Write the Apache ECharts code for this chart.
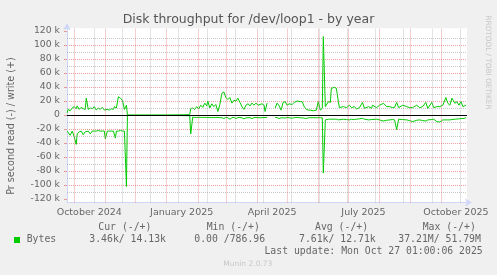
<!DOCTYPE html>
<html>
<head>
<meta charset="utf-8">
<script src="https://cdn.jsdelivr.net/npm/echarts@6/dist/echarts.min.js"></script>
<style>
html,body{margin:0;padding:0;background:#F0F0F0;}
#chart{width:497px;height:275px;}
</style>
</head>
<body>
<div id="chart"></div>
<script>
// ---- data (values in k bytes per second) ----
const dates = [
'2024-09-24','2024-09-25','2024-09-27','2024-09-29','2024-10-01','2024-10-03','2024-10-04','2024-10-06','2024-10-08','2024-10-10',
'2024-10-12','2024-10-13','2024-10-15','2024-10-17','2024-10-19','2024-10-21','2024-10-23','2024-10-25','2024-10-27','2024-10-29',
'2024-10-31','2024-11-01','2024-11-03','2024-11-05','2024-11-07','2024-11-09','2024-11-10','2024-11-11','2024-11-12','2024-11-14',
'2024-11-16','2024-11-18','2024-11-20','2024-11-22','2024-11-23','2024-12-10','2025-01-01','2025-01-24','2025-01-25','2025-01-27',
'2025-01-29','2025-01-31','2025-02-02','2025-02-04','2025-02-06','2025-02-08','2025-02-10','2025-02-11','2025-02-13','2025-02-15',
'2025-02-17','2025-02-19','2025-02-21','2025-02-23','2025-02-25','2025-02-27','2025-03-01','2025-03-03','2025-03-05','2025-03-07',
'2025-03-09','2025-03-11','2025-03-13','2025-03-15','2025-03-17','2025-03-19','2025-03-21','2025-03-23','2025-03-25','2025-03-27',
'2025-03-29','2025-03-31','2025-04-02','2025-04-04','2025-04-06','2025-04-08','2025-04-09','2025-04-11','2025-04-15','2025-04-19',
'2025-04-21','2025-04-23','2025-04-25','2025-04-27','2025-04-29','2025-05-01','2025-05-03','2025-05-06','2025-05-08','2025-05-11',
'2025-05-14','2025-05-16','2025-05-18','2025-05-20','2025-05-22','2025-05-24','2025-05-27','2025-05-30','2025-06-01','2025-06-03',
'2025-06-05','2025-06-06','2025-06-08','2025-06-11','2025-06-13','2025-06-14','2025-06-17','2025-06-19','2025-06-21','2025-06-22',
'2025-06-26','2025-06-29','2025-07-02','2025-07-04','2025-07-07','2025-07-09','2025-07-12','2025-07-15','2025-07-17','2025-07-21',
'2025-07-24','2025-07-25','2025-07-29','2025-08-01','2025-08-05','2025-08-08','2025-08-11','2025-08-14','2025-08-16','2025-08-18',
'2025-08-20','2025-08-24','2025-08-28','2025-08-31','2025-09-03','2025-09-07','2025-09-10','2025-09-13','2025-09-16','2025-09-18',
'2025-09-22','2025-09-24','2025-09-27','2025-09-30','2025-10-01','2025-10-03','2025-10-06','2025-10-08','2025-10-10','2025-10-12',
'2025-10-15','2025-10-17','2025-10-19','2025-10-21','2025-10-23','2025-10-25','2025-10-26'
];
const writeK = [
3,8,6,10,12,9,13,8,11,9,
8,24,8,10,9,12,7,10,8,11,
7,8,8,7,9,8,12,11,10,26,
24,21,8,14,0,0,0,0.5,9,10,
8,12,9,14,11,17,13,20,10,16,
12,15,5,15,31,33,25,22,25,17,
21,20,24,18,12,8,14,16,13,17,
14,17,14,15,16,14,5,17,null,10,
17,13,7,18,19,14,16,15,18,20,
19,19,12,8,7,7,6,7,19,7,
9.5,112,12,19,18,38,39.5,38,19,10.5,
12,10.5,14,10.5,12,8.6,10.5,18,9.5,12,
9.5,14,10.5,14,16.7,12,12,10.5,11,18,
10.5,14,12,10.5,10.5,14,10.5,12,18,9.5,
18,10.5,12,12,12,14,25,16.7,14,24,
16.7,19,14,19,12,13.3,14.13
];
const readK = [
-23,-23,-29,-23,-31,-42,-27,-24,-23,-28,
-24,-23,-23,-27,-23,-23,-23,-22,-23,-23,
-23,-34,-23,-23,-23,-23,-23,-33,-23,-23,
-22,-23,-23,-102,-0.5,-0.5,-0.5,-1,-27,-3,
-3.5,-3.5,-3.5,-3.5,-3.5,-3.5,-3.5,-3.5,-3.5,-3.8,
-3.5,-3.8,-3.5,-3.8,-3.8,-5,-3.5,-4,-6,-4,
-3.5,-5,-3.8,-3.5,-4,-5.5,-4,-4,-3.8,-5,
-3.8,-3.5,-3.8,-4,-3.8,-3.5,-3.8,-3.5,null,-3.5,
-3.8,-5,-4,-4,-4.5,-3.5,-4,-4.5,-3.8,-3.5,
-4,-4,-4.5,-5,-4,-3.8,-3.8,-4,-3.8,-3.8,
-4,-83,-7,-6,-6,-6,-6,-6,-7,-8.6,
-6,-6.5,-7,-6,-6.5,-6,-5.5,-4.8,-6,-7,
-6.5,-6,-6,-7,-8.6,-7.5,-7,-6.5,-7,-21,
-6,-6.5,-7,-8,-9.5,-7.5,-7,-8,-8.6,-7,
-6.5,-6,-9.5,-10,-11,-7,-7,-7,-7,-6.5,
-6,-5.7,-5.5,-5.2,-5,-4.8,-3.46
];
const monthStarts = ['2024-10-01','2024-11-01','2024-12-01','2025-01-01','2025-02-01','2025-03-01','2025-04-01',
  '2025-05-01','2025-06-01','2025-07-01','2025-08-01','2025-09-01','2025-10-01'];
const minorWeeks = ['2024-10-21','2024-11-18','2024-12-16','2025-01-13','2025-02-10','2025-03-10','2025-04-07',
  '2025-05-05','2025-06-02','2025-06-30','2025-07-28','2025-08-25','2025-09-22','2025-10-20'];
const xLabelDates = ['2024-10-16','2025-01-16','2025-04-16','2025-07-16','2025-10-16'];
const yTicks = [-120,-100,-80,-60,-40,-20,0,20,40,60,80,100,120];
const monthNames = ['January','February','March','April','May','June','July','August','September','October','November','December'];

const legendHead = ['Cur (-/+)','Min (-/+)','Avg (-/+)','Max (-/+)'];
const legendVals = ['3.46k/ 14.13k','0.00 /786.96','7.61k/ 12.71k','37.21M/ 51.79M'];

// ---- helpers ----
function toTs(s){ return new Date(s.length > 10 ? s : s + 'T00:00:00').getTime(); }
const yMinor = [];
for (let v = -110; v <= 110; v += 20) yMinor.push(v);

const GREEN = '#00CC00';
const AXIS = '#CFD6F8';
const FONT = '#666666';
const MGRID = 'rgba(222,79,79,0.55)';
const GRID = 'rgba(143,143,143,0.5)';

const writeData = dates.map((d,i)=>[toTs(d), writeK[i]]);
const readData = dates.map((d,i)=>[toTs(d), readK[i]]);

const gridLines = []
  .concat(minorWeeks.map(d=>({xAxis: toTs(d), lineStyle:{color:GRID, type:[1,1], width:1}})))
  .concat(yMinor.map(v=>({yAxis: v, lineStyle:{color:GRID, type:[1,1], width:1}})))
  .concat(monthStarts.map(d=>({xAxis: toTs(d), lineStyle:{color:MGRID, type:[1,1], width:1}})));

const legX = [98.3, 206.7, 315, 422.7];
const valX = [89.3, 194.3, 299, 398.3];
const mono = '9.8px "DejaVu Sans Mono"';
const graphics = [
  {type:'text', x:248.5, y:19.5, style:{text:'Disk throughput for /dev/loop1 - by year', fill:'#555', font:'12.5px "DejaVu Sans"', align:'center', verticalAlign:'middle'}},
  {type:'text', x:11, y:126, rotation:Math.PI/2, style:{text:'Pr second read (-) / write (+)', fill:FONT, font:'9.6px "DejaVu Sans"', align:'center', verticalAlign:'middle'}},
  {type:'text', x:487.5, y:62.5, rotation:-Math.PI/2, style:{text:'RRDTOOL / TOBI OETIKER', fill:'#C8C8C8', font:'7.3px "DejaVu Sans"', align:'center', verticalAlign:'middle'}},
  {type:'rect', shape:{x:14, y:237, width:6, height:6}, style:{fill:GREEN}},
  {type:'text', x:26.7, y:239.7, style:{text:'Bytes', fill:FONT, font:mono, align:'left', verticalAlign:'middle'}},
  {type:'text', x:482.7, y:251.7, style:{text:'Last update: Mon Oct 27 01:00:06 2025', fill:FONT, font:mono, align:'right', verticalAlign:'middle'}},
  {type:'text', x:247.8, y:263.7, style:{text:'Munin 2.0.73', fill:'#C8C8C8', font:'7.5px "DejaVu Sans"', align:'center', verticalAlign:'middle'}}
];
legendHead.forEach((t,i)=>graphics.push({type:'text', x:legX[i], y:227.3, style:{text:t, fill:FONT, font:mono, align:'left', verticalAlign:'middle'}}));
legendVals.forEach((t,i)=>graphics.push({type:'text', x:valX[i], y:239.7, style:{text:t, fill:FONT, font:mono, align:'left', verticalAlign:'middle'}}));

const chart = echarts.init(document.getElementById('chart'), null, {renderer:'canvas'});
chart.setOption({
  backgroundColor:'#F0F0F0',
  animation:false,
  grid:{left:67, top:28.2, width:400, height:174.3, show:true, backgroundColor:'#FFFFFF', borderWidth:0},
  xAxis:{
    type:'value',
    min: toTs('2024-09-23T20:00:00'),
    max: toTs('2025-10-27T01:00:00'),
    axisLine:{show:true, onZero:false, lineStyle:{color:AXIS, width:1}, symbol:['none','arrow'], symbolSize:[6,7], symbolOffset:[0,5]},
    axisTick:{show:false},
    splitLine:{show:false},
    axisLabel:{
      customValues: xLabelDates.map(toTs),
      formatter: function(v){ const d = new Date(v); return monthNames[d.getMonth()] + ' ' + d.getFullYear(); },
      color:FONT, fontFamily:'DejaVu Sans', fontSize:9.5, margin:5, hideOverlap:false
    }
  },
  yAxis:{
    type:'value', min:-125, max:124, splitNumber:12, minInterval:20, maxInterval:20,
    axisLine:{show:true, onZero:false, lineStyle:{color:AXIS, width:1}, symbol:['none','arrow'], symbolSize:[6,7], symbolOffset:[0,5]},
    axisTick:{show:true, length:3, customValues:yTicks, lineStyle:{color:MGRID}},
    axisLabel:{customValues:yTicks, formatter:function(v){ return v === 0 ? '0' : v + ' k'; }, color:FONT, fontFamily:'DejaVu Sans', fontSize:9.3, margin:7},
    splitLine:{show:true, showMinLine:false, showMaxLine:false, lineStyle:{color:MGRID, type:[1,1], width:1}}
  },
  graphic: graphics,
  series:[
    {type:'line', data:[], z:1, silent:true,
     markLine:{silent:true, symbol:['none','none'], label:{show:false}, animation:false, data:gridLines}},
    {name:'write', type:'line', data:writeData, z:3, showSymbol:false, symbol:'none', connectNulls:false,
     lineStyle:{color:GREEN, width:1}, itemStyle:{color:GREEN}},
    {name:'read', type:'line', data:readData, z:3, showSymbol:false, symbol:'none', connectNulls:false,
     lineStyle:{color:GREEN, width:1}, itemStyle:{color:GREEN}},
    {type:'line', data:[], z:5, silent:true,
     markLine:{silent:true, symbol:['none','none'], label:{show:false}, animation:false,
       data:[{yAxis:0, lineStyle:{color:'#000000', width:1, type:'solid'}}]}}
  ]
});
</script>
</body>
</html>
